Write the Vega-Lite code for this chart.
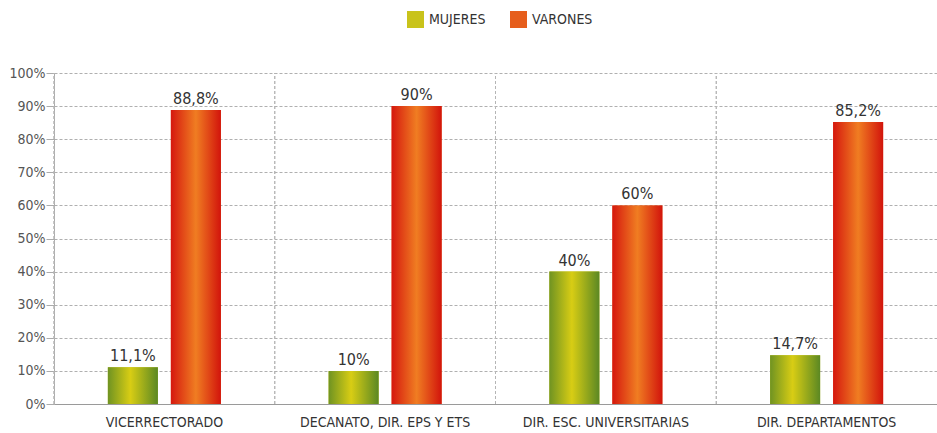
{
  "$schema": "https://vega.github.io/schema/vega-lite/v6.json",
  "width": 883,
  "height": 331,
  "autosize": "none",
  "padding": {"left": 54, "top": 73, "right": 0, "bottom": 29},
  "background": "white",
  "config": {
    "font": "Liberation Sans Narrow, DejaVu Sans Condensed, sans-serif",
    "view": {"stroke": null}
  },
  "data": {
    "values": [
      {"cargo": "VICERRECTORADO", "sexo": "MUJERES", "v": 11.1},
      {"cargo": "VICERRECTORADO", "sexo": "VARONES", "v": 88.8},
      {"cargo": "DECANATO, DIR. EPS Y ETS", "sexo": "MUJERES", "v": 10},
      {"cargo": "DECANATO, DIR. EPS Y ETS", "sexo": "VARONES", "v": 90},
      {"cargo": "DIR. ESC. UNIVERSITARIAS", "sexo": "MUJERES", "v": 40},
      {"cargo": "DIR. ESC. UNIVERSITARIAS", "sexo": "VARONES", "v": 60},
      {"cargo": "DIR. DEPARTAMENTOS", "sexo": "MUJERES", "v": 14.7},
      {"cargo": "DIR. DEPARTAMENTOS", "sexo": "VARONES", "v": 85.2}
    ]
  },
  "transform": [
    {"calculate": "replace(format(datum.v, datum.v % 1 == 0 ? '.0f' : '.1f'), '.', ',') + '%'", "as": "lbl"}
  ],
  "encoding": {
    "x": {
      "field": "cargo", "type": "nominal", "sort": null,
      "scale": {"paddingInner": 0, "paddingOuter": 0},
      "axis": {
        "title": null, "labelAngle": 0, "ticks": false, "grid": false,
        "domain": true, "domainColor": "#9a9a9a", "domainWidth": 1,
        "labelFontSize": 14, "labelColor": "#333333", "labelPadding": 11
      }
    },
    "y": {
      "field": "v", "type": "quantitative",
      "scale": {"domain": [0, 100], "nice": false},
      "axis": {
        "title": null, "values": [0,10,20,30,40,50,60,70,80,90,100],
        "labelExpr": "datum.value + '%'", "labelOverlap": false,
        "grid": true, "gridColor": "#b0b0b0", "gridDash": [3, 2], "gridWidth": 1,
        "domain": true, "domainColor": "#ababab",
        "tickSize": 8, "tickColor": "#ababab",
        "labelFontSize": 14, "labelColor": "#555555", "labelPadding": 1
      }
    }
  },
  "layer": [
    {
      "mark": {"type": "rule", "color": "#b5b5b5", "strokeDash": [3, 2], "strokeWidth": 1},
      "encoding": {
        "x": {"field": "cargo", "type": "nominal", "sort": null, "bandPosition": 0},
        "y": {"datum": 0, "type": "quantitative"},
        "y2": {"datum": 100}
      }
    },
    {
      "mark": {"type": "bar"},
      "encoding": {
        "xOffset": {"field": "sexo", "type": "nominal", "scale": {"paddingInner": 0.206, "paddingOuter": 0.855}},
        "color": {
          "field": "sexo", "type": "nominal",
          "scale": {"domain": ["MUJERES", "VARONES"], "range": ["#c9c31b", "#e65e1c"]},
          "legend": {
            "title": null, "orient": "none", "legendX": 353, "legendY": -62,
            "direction": "horizontal", "symbolType": "square", "symbolSize": 289,
            "symbolStrokeWidth": 0, "labelFontSize": 14, "labelColor": "#333333",
            "columnPadding": 24, "labelOffset": 5
          }
        }
      }
    },
    {
      "transform": [{"filter": "datum.sexo == 'MUJERES'"}],
      "mark": {
        "type": "bar",
        "color": {
          "gradient": "linear", "x1": 0, "y1": 0, "x2": 1, "y2": 0,
          "stops": [
            {"offset": 0, "color": "#6f9322"},
            {"offset": 0.45, "color": "#d8cd14"},
            {"offset": 1, "color": "#5b8823"}
          ]
        }
      },
      "encoding": {
        "xOffset": {"field": "sexo", "type": "nominal"}
      }
    },
    {
      "transform": [{"filter": "datum.sexo == 'VARONES'"}],
      "mark": {
        "type": "bar",
        "color": {
          "gradient": "linear", "x1": 0, "y1": 0, "x2": 1, "y2": 0,
          "stops": [
            {"offset": 0, "color": "#d5180e"},
            {"offset": 0.5, "color": "#f07d22"},
            {"offset": 1, "color": "#d2140c"}
          ]
        }
      },
      "encoding": {
        "xOffset": {"field": "sexo", "type": "nominal"}
      }
    },
    {
      "mark": {"type": "text", "baseline": "bottom", "dy": -3, "fontSize": 16, "color": "#333333"},
      "encoding": {
        "xOffset": {"field": "sexo", "type": "nominal"},
        "text": {"field": "lbl"}
      }
    }
  ]
}
